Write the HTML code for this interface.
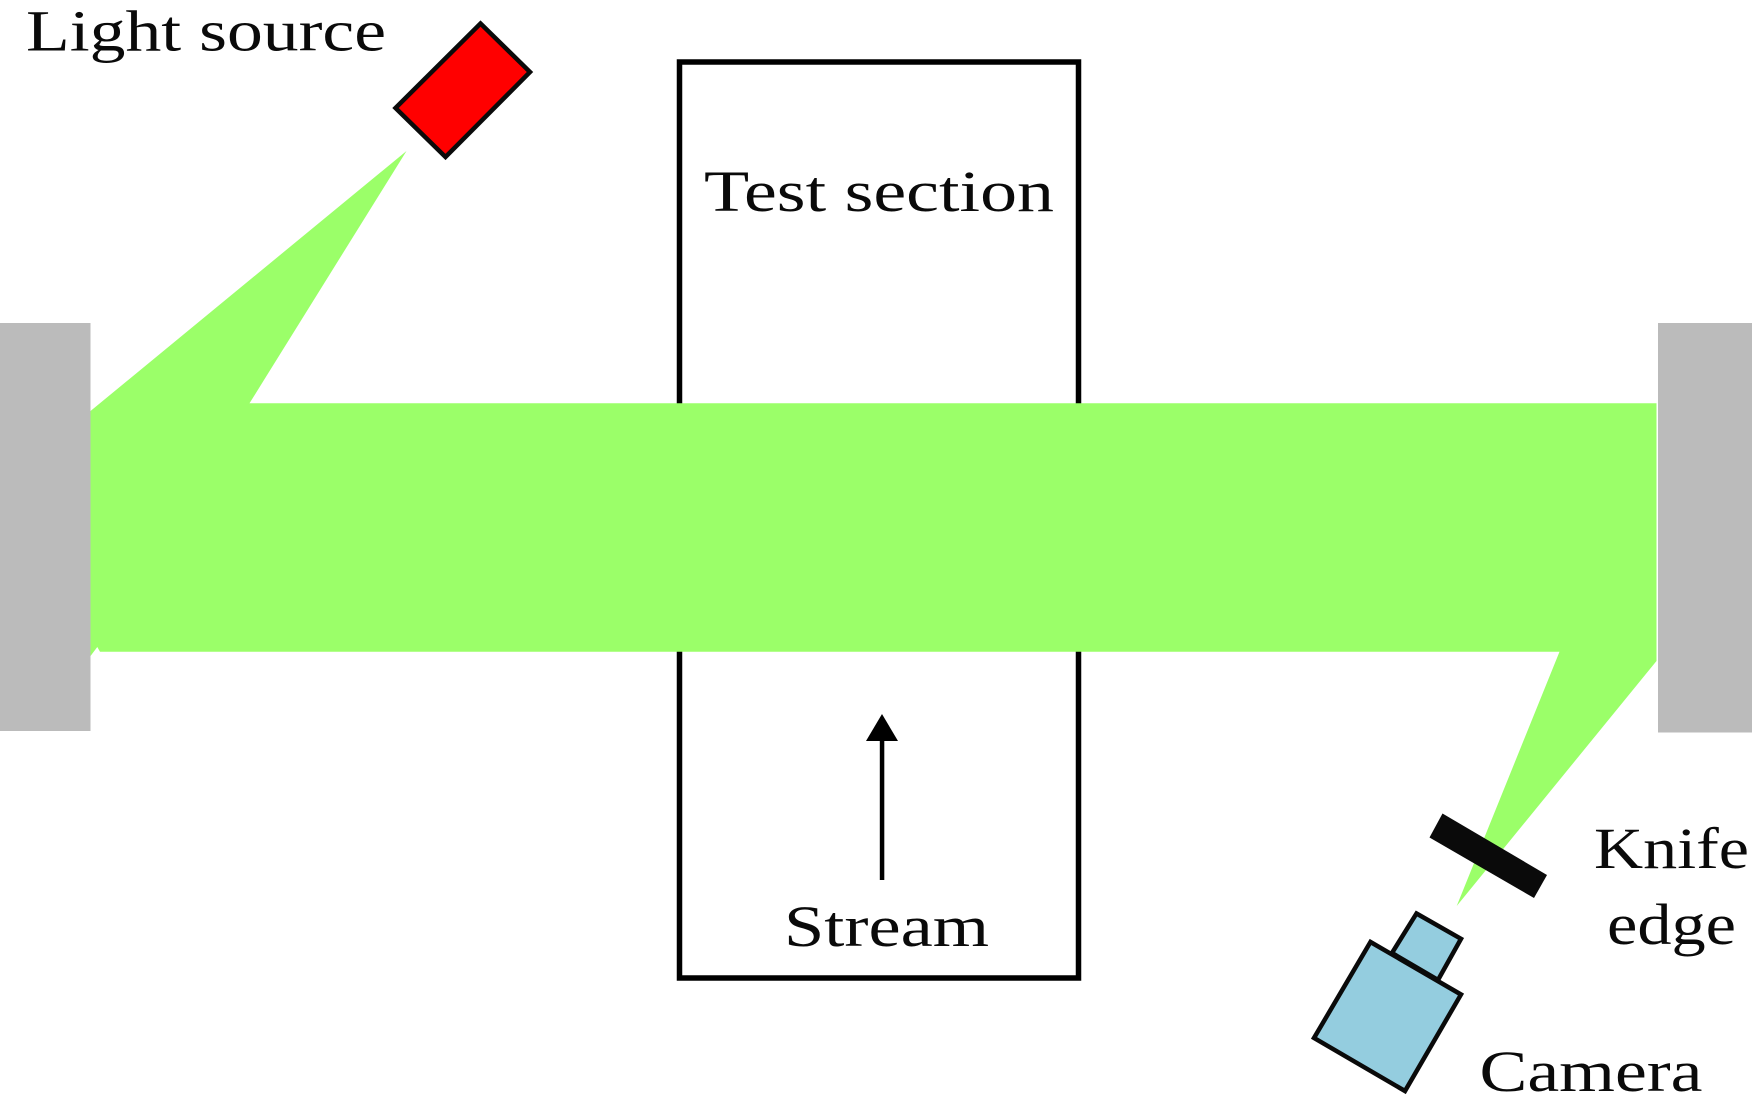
<!DOCTYPE html>
<html>
<head>
<meta charset="utf-8">
<title>Schlieren setup diagram</title>
<style>
html,body{margin:0;padding:0;background:#fff;width:1752px;height:1105px;overflow:hidden}
svg{display:block}
text{font-family:"Liberation Serif",serif;font-size:58px;fill:#0a0a0a}
</style>
</head>
<body>
<svg width="1752" height="1105" viewBox="0 0 1752 1105" xmlns="http://www.w3.org/2000/svg">
<rect width="1752" height="1105" fill="#fff"/>
<!-- test section -->
<rect x="679.5" y="62" width="399" height="916" fill="#fff" stroke="#000" stroke-width="5.5"/>
<!-- mirrors -->
<rect x="0" y="323" width="90.5" height="408" fill="#bbbbbb"/>
<rect x="1658" y="323" width="94" height="409.5" fill="#bbbbbb"/>
<!-- beam -->
<polygon fill="#9bff69" points="90.5,411 406.5,151 249.5,403.3 1656.5,403.3 1656.5,661 1456.7,906 1559.5,651.7 100,651.7 97.3,647 90.5,656"/>
<!-- light source -->
<polygon fill="#ff0000" stroke="#0a0a0a" stroke-width="4.5" stroke-linejoin="miter" points="480.5,23.5 530,72 445.5,157 395.5,108"/>
<!-- knife -->
<polygon fill="#0a0a0a" points="1442.5,813.5 1547,875 1534,898 1429.5,837.5"/>
<!-- camera -->
<polygon fill="#94cddf" stroke="#0a0a0a" stroke-width="4.5" points="1416.5,913.5 1461,938.8 1438,980 1392,953"/>
<polygon fill="#94cddf" stroke="#0a0a0a" stroke-width="4.5" points="1370.5,942 1461,994.5 1405,1091 1314,1038"/>
<!-- arrow -->
<rect x="879.8" y="738" width="4.5" height="142" fill="#000"/>
<polygon fill="#000" points="882,714 898,741 866,741"/>
<!-- labels -->
<text x="26" y="50.5" textLength="360" lengthAdjust="spacingAndGlyphs">Light source</text>
<text x="704" y="211" textLength="350" lengthAdjust="spacingAndGlyphs">Test section</text>
<text x="784" y="946" textLength="205" lengthAdjust="spacingAndGlyphs">Stream</text>
<text x="1594" y="868" textLength="155" lengthAdjust="spacingAndGlyphs">Knife</text>
<text x="1607" y="944" textLength="129" lengthAdjust="spacingAndGlyphs">edge</text>
<text x="1479.5" y="1091" textLength="223" lengthAdjust="spacingAndGlyphs">Camera</text>
</svg>
</body>
</html>
